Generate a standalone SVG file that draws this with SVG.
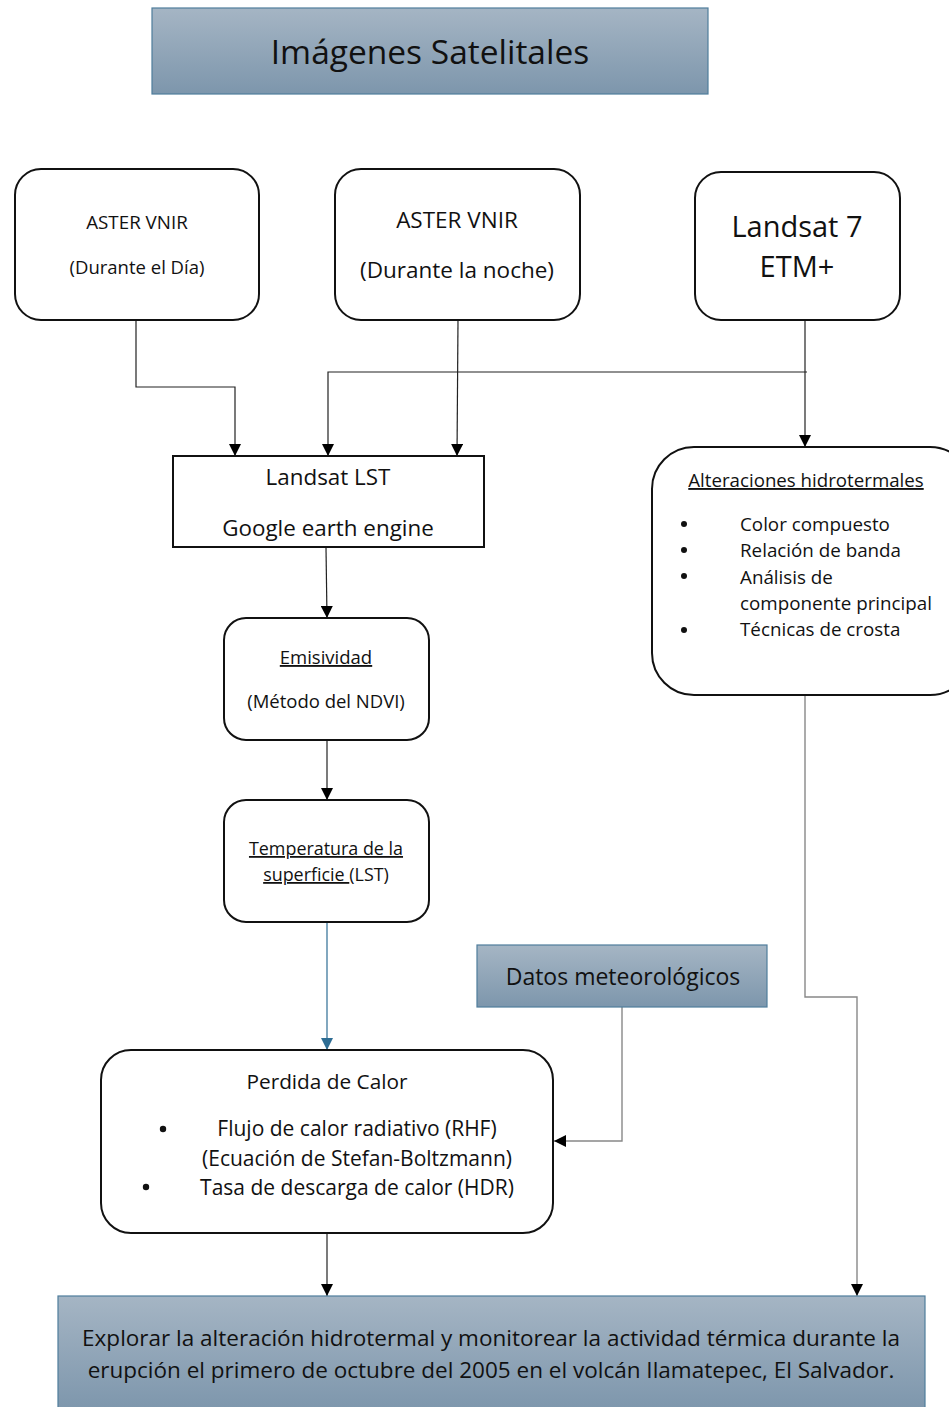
<svg xmlns="http://www.w3.org/2000/svg" width="949" height="1407" viewBox="0 0 949 1407">
<defs>
<linearGradient id="bg" x1="0" y1="0" x2="0" y2="1">
<stop offset="0" stop-color="#a5b5c4"/>
<stop offset="1" stop-color="#7d96ac"/>
</linearGradient>
<marker id="ah" markerWidth="12" markerHeight="12" refX="10" refY="5" orient="auto" markerUnits="userSpaceOnUse" viewBox="0 0 10 10">
<path d="M0,0 L10,5 L0,10 z" fill="#000"/>
</marker>
<marker id="ahb" markerWidth="12" markerHeight="12" refX="10" refY="5" orient="auto" markerUnits="userSpaceOnUse" viewBox="0 0 10 10">
<path d="M0,0 L10,5 L0,10 z" fill="#2e6d94"/>
</marker>
</defs>
<style>
text { font-family: "Open Sans", "Liberation Sans", sans-serif; fill: #111; }
.c { text-anchor: middle; }
.box { fill: #fff; stroke: #111; stroke-width: 2; }
.band { fill: url(#bg); stroke: #4f7d9c; stroke-width: 1.2; }
.ln { fill: none; stroke: #222; stroke-width: 1.2; }
.lg { fill: none; stroke: #888; stroke-width: 1.4; }
.u { text-decoration: underline; }
</style>
<rect width="949" height="1407" fill="#fff"/>

<g id="connectors">
<path class="ln" d="M136,320 V387 H235 V456" marker-end="url(#ah)"/>
<path class="ln" d="M458,320 L457,456" marker-end="url(#ah)"/>
<path class="ln" d="M807,372 H328 V456" marker-end="url(#ah)"/>
<path class="ln" d="M805,320 V447" marker-end="url(#ah)"/>
<path class="ln" d="M326,548 L327,618" marker-end="url(#ah)"/>
<path class="ln" d="M327,740 V800" marker-end="url(#ah)"/>
<path fill="none" stroke="#2e6d94" stroke-width="1.2" d="M327,922 V1050" marker-end="url(#ahb)"/>
<path class="lg" d="M622,1007 V1141 H554" marker-end="url(#ah)"/>
<path class="ln" d="M327,1233 V1296" marker-end="url(#ah)"/>
<path class="lg" d="M805,695 V997 H857 V1296" marker-end="url(#ah)"/>
</g>

<g id="title">
<rect class="band" x="152" y="8" width="556" height="86"/>
<text class="c" x="430" y="64" font-size="33.5">Imágenes Satelitales</text>
</g>

<g id="aster-dia">
<rect class="box" x="15" y="169" width="244" height="151" rx="26"/>
<text class="c" x="137" y="229" font-size="18.8">ASTER VNIR</text>
<text class="c" x="137" y="274" font-size="18.5">(Durante el Día)</text>
</g>

<g id="aster-noche">
<rect class="box" x="335" y="169" width="245" height="151" rx="26"/>
<text class="c" x="457" y="228" font-size="22.5">ASTER VNIR</text>
<text class="c" x="457" y="278" font-size="22.5">(Durante la noche)</text>
</g>

<g id="landsat7">
<rect class="box" x="695" y="172" width="205" height="148" rx="26"/>
<text class="c" x="797" y="237" font-size="29">Landsat 7</text>
<text class="c" x="797" y="277" font-size="29">ETM+</text>
</g>

<g id="landsat-lst">
<rect class="box" x="173" y="456" width="311" height="91"/>
<text class="c" x="328" y="485" font-size="22.4">Landsat LST</text>
<text class="c" x="328" y="536" font-size="22.4">Google earth engine</text>
</g>

<g id="alteraciones">
<rect class="box" x="652" y="447" width="320" height="248" rx="42"/>
<text class="c u" x="806" y="487" font-size="18.7">Alteraciones hidrotermales</text>
<g font-size="18.8">
<circle cx="684" cy="524" r="3" fill="#111"/>
<text x="740" y="531">Color compuesto</text>
<circle cx="684" cy="550" r="3" fill="#111"/>
<text x="740" y="557">Relación de banda</text>
<circle cx="684" cy="576" r="3" fill="#111"/>
<text x="740" y="584">Análisis de</text>
<text x="740" y="610">componente principal</text>
<circle cx="684" cy="630" r="3" fill="#111"/>
<text x="740" y="636">Técnicas de crosta</text>
</g>
</g>

<g id="emisividad">
<rect class="box" x="224" y="618" width="205" height="122" rx="22"/>
<text class="c u" x="326" y="664" font-size="18.5">Emisividad</text>
<text class="c" x="326" y="708" font-size="18.5">(Método del NDVI)</text>
</g>

<g id="temperatura">
<rect class="box" x="224" y="800" width="205" height="122" rx="22"/>
<text class="c" x="326" y="855" font-size="17.9"><tspan class="u">Temperatura de la</tspan></text>
<text class="c" x="326" y="881" font-size="17.9"><tspan class="u">superficie </tspan>(LST)</text>
</g>

<g id="datos">
<rect class="band" x="477" y="945" width="290" height="62"/>
<text class="c" x="623" y="985" font-size="23">Datos meteorológicos</text>
</g>

<g id="perdida">
<rect class="box" x="101" y="1050" width="452" height="183" rx="30"/>
<text class="c" x="327" y="1089" font-size="20.8">Perdida de Calor</text>
<circle cx="163" cy="1129" r="3.2" fill="#111"/>
<text class="c" x="357" y="1136" font-size="21">Flujo de calor radiativo (RHF)</text>
<text class="c" x="357" y="1166" font-size="21">(Ecuación de Stefan-Boltzmann)</text>
<circle cx="146" cy="1187" r="3.2" fill="#111"/>
<text class="c" x="357" y="1195" font-size="21">Tasa de descarga de calor (HDR)</text>
</g>

<g id="objetivo">
<rect class="band" x="58" y="1296" width="867" height="115"/>
<text class="c" x="491" y="1346" font-size="22.5">Explorar la alteración hidrotermal y monitorear la actividad térmica durante la</text>
<text class="c" x="491" y="1378" font-size="22.5">erupción el primero de octubre del 2005 en el volcán Ilamatepec, El Salvador.</text>
</g>
</svg>
